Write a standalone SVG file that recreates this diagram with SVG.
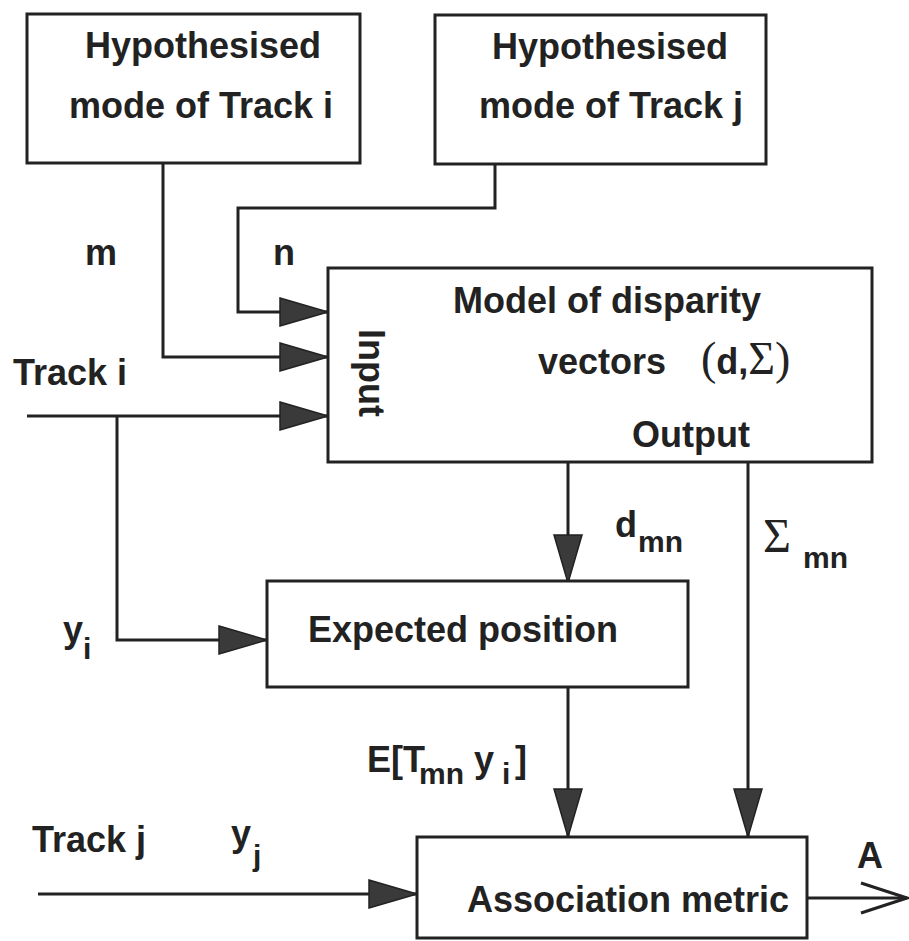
<svg xmlns="http://www.w3.org/2000/svg" width="909" height="941" viewBox="0 0 909 941">
<style>
.box{fill:#fff;stroke:#222;stroke-width:3}
.t{font-family:"Liberation Sans",Arial,sans-serif;font-weight:bold;font-size:36px;fill:#222}
.s{font-family:"Liberation Sans",Arial,sans-serif;font-weight:bold;font-size:30px;fill:#222}
.g{font-family:"Liberation Serif","Times New Roman",serif;font-weight:normal;fill:#222}
.c{text-anchor:middle}
.ln{fill:none;stroke:#222;stroke-width:3}
</style>
<defs>
<marker id="tri" markerUnits="userSpaceOnUse" markerWidth="50" markerHeight="30" viewBox="0 0 50 30" refX="49" refY="15" orient="auto">
<path d="M1,1 L49,15 L1,29 Z" fill="#3a3a3a" stroke="#222" stroke-width="1.5"/>
</marker>
<marker id="open" markerUnits="userSpaceOnUse" markerWidth="50" markerHeight="34" viewBox="0 0 50 34" refX="48" refY="17" orient="auto">
<path d="M2,2 L48,17 L2,32" fill="none" stroke="#222" stroke-width="3"/>
</marker>
</defs>
<rect width="909" height="941" fill="#fff"/>

<g id="connectors">
<path class="ln" d="M163,163 V357 H328" marker-end="url(#tri)"/>
<path class="ln" d="M495,164 V208 H238 V312 H328" marker-end="url(#tri)"/>
<path class="ln" d="M27,416 H328" marker-end="url(#tri)"/>
<path class="ln" d="M117,416 V640 H267" marker-end="url(#tri)"/>
<path class="ln" d="M568,462 V583" marker-end="url(#tri)"/>
<path class="ln" d="M748,462 V837" marker-end="url(#tri)"/>
<path class="ln" d="M568,687 V837" marker-end="url(#tri)"/>
<path class="ln" d="M38,894 H417" marker-end="url(#tri)"/>
<path class="ln" d="M807,898 H907" marker-end="url(#open)"/>
</g>

<g id="hyp-i">
<rect class="box" x="27" y="14" width="333" height="149"/>
<text class="t c" x="203" y="58">Hypothesised</text>
<text class="t c" x="201" y="118">mode of Track i</text>
</g>

<g id="hyp-j">
<rect class="box" x="435" y="15" width="331" height="149"/>
<text class="t c" x="610" y="59">Hypothesised</text>
<text class="t c" x="611" y="118">mode of Track j</text>
</g>

<g id="model">
<rect class="box" x="328" y="268" width="544" height="194"/>
<text class="t" x="453" y="313">Model of disparity</text>
<text class="t" x="538" y="374">vectors</text>
<text class="t" x="701" y="374"><tspan class="g" font-size="46">(</tspan><tspan>d,</tspan><tspan class="g" font-size="46">Σ)</tspan></text>
<text class="t" x="632" y="447">Output</text>
<text class="t c" font-size="34" transform="translate(359,373) rotate(90)">Input</text>
</g>

<g id="expected">
<rect class="box" x="267" y="581" width="421" height="106"/>
<text class="t" x="308" y="642">Expected position</text>
</g>

<g id="assoc">
<rect class="box" x="417" y="837" width="390" height="101"/>
<text class="t" x="467" y="912">Association metric</text>
</g>

<g id="labels">
<text class="t" x="85" y="265">m</text>
<text class="t" x="273" y="265">n</text>
<text class="t" x="13" y="385">Track i</text>
<text class="t" x="615" y="537" font-size="34">d</text>
<text class="s" x="638" y="552">mn</text>
<text class="g" x="763" y="552" font-size="48">Σ</text>
<text class="s" x="803" y="568">mn</text>
<text class="t" x="63" y="642" font-size="34">y</text>
<text class="s" x="83" y="659" font-size="26">i</text>
<text class="t" x="367" y="772" font-size="31">E[T</text>
<text class="s" x="419" y="784" font-size="28">mn</text>
<text class="t" x="474" y="772" font-size="31">y</text>
<text class="s" x="502" y="784" font-size="26">i</text>
<text class="t" x="515" y="772" font-size="31">]</text>
<text class="t" x="32" y="852">Track j</text>
<text class="t" x="231" y="846" font-size="34">y</text>
<text class="s" x="253" y="866" font-size="26">j</text>
<text class="t" x="857" y="868" font-size="34">A</text>
</g>
</svg>
